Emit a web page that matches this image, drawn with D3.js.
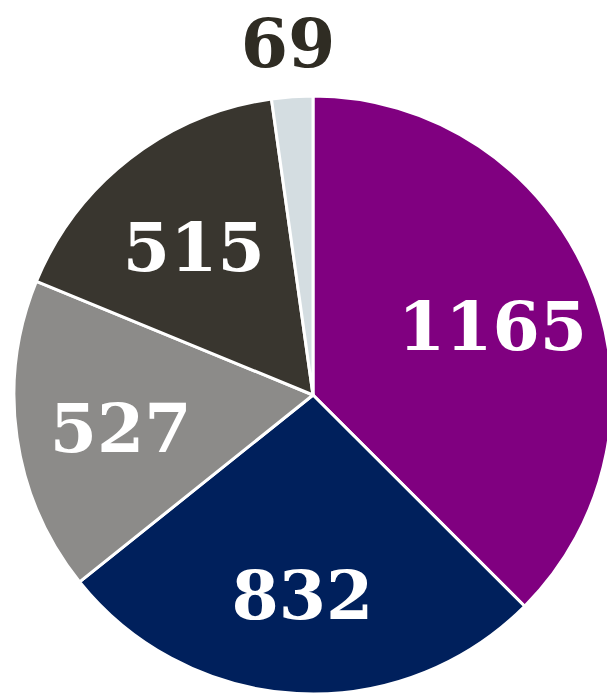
<!DOCTYPE html>
<html>
<head>
<meta charset="utf-8">
<script src="https://cdn.jsdelivr.net/npm/d3@7"></script>
<style>
  body { margin: 0; background: #fff; }
  svg { display: block; }
</style>
</head>
<body>
<svg id="chart"></svg>
<script>
// data
const categories = ["A", "B", "C", "D", "E"];
const values = [1165, 832, 527, 515, 69];
const colors = ["#800080", "#00205c", "#8c8b89", "#39362f", "#d4dde1"];

const width = 607, height = 695;
const cx = 313, cy = 395, radius = 299;

const svg = d3.select("#chart")
    .attr("width", width)
    .attr("height", height);

const g = svg.append("g")
    .attr("transform", `translate(${cx},${cy})`);

const data = categories.map((c, i) => ({cat: c, value: values[i], color: colors[i]}));

const pie = d3.pie()
    .sort(null)
    .value(d => d.value);

const arc = d3.arc()
    .innerRadius(0)
    .outerRadius(radius);

const labelArc = d3.arc()
    .innerRadius(radius * 0.65)
    .outerRadius(radius * 0.65);

const outerArc = d3.arc()
    .innerRadius(radius * 1.2)
    .outerRadius(radius * 1.2);

const arcs = pie(data);

// slices
g.selectAll("path.slice")
    .data(arcs)
    .enter()
    .append("path")
    .attr("class", "slice")
    .attr("d", arc)
    .attr("fill", d => d.data.color)
    .attr("stroke", "#fff")
    .attr("stroke-width", 3)
    .attr("stroke-linejoin", "round");

// labels - small slice goes outside
g.selectAll("text.label")
    .data(arcs)
    .enter()
    .append("text")
    .attr("class", "label")
    .attr("transform", d => {
        let small = (d.endAngle - d.startAngle) < 0.3;
        let p = small ? outerArc.centroid(d) : labelArc.centroid(d);
        return `translate(${p[0]},${p[1] + 12})`;
    })
    .attr("text-anchor", "middle")
    .attr("dominant-baseline", "middle")
    .attr("font-family", "'DejaVu Serif', serif")
    .attr("font-weight", "bold")
    .attr("font-size", "68px")
    .attr("fill", d => (d.endAngle - d.startAngle) < 0.3 ? "#2f2c23" : "#fff")
    .text(d => d.data.value);
</script>
</body>
</html>
